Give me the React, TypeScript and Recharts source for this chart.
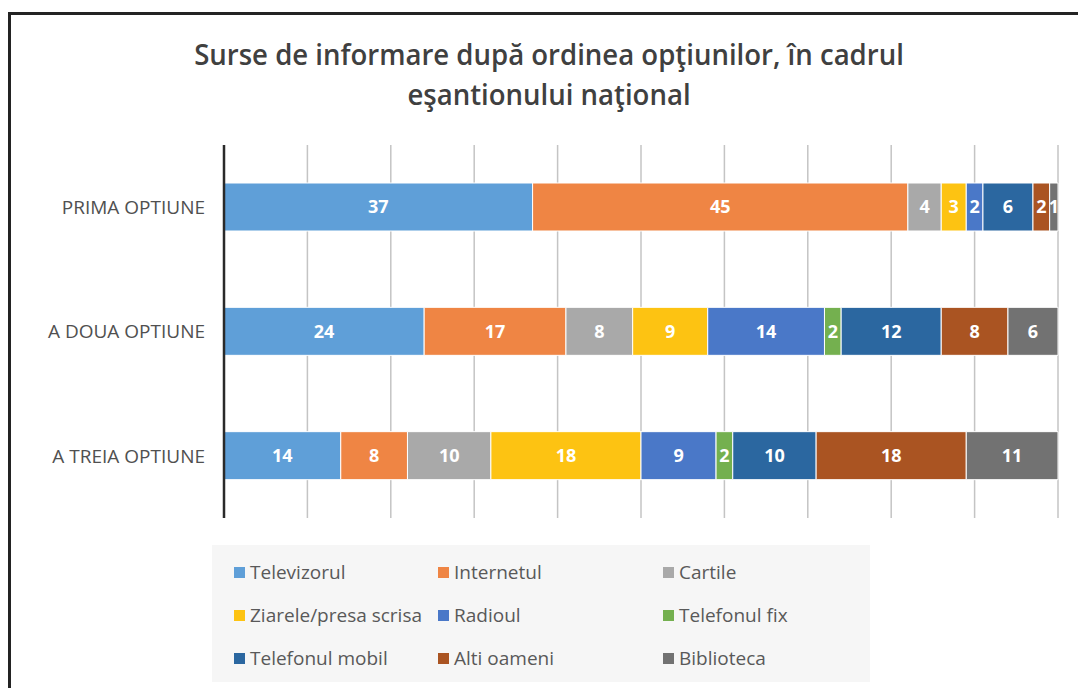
import { BarChart, Bar, XAxis, YAxis, CartesianGrid, LabelList } from "recharts"

const optiuni = ["PRIMA OPTIUNE", "A DOUA OPTIUNE", "A TREIA OPTIUNE"]

const televizorul = [37, 24, 14]
const internetul = [45, 17, 8]
const cartile = [4, 8, 10]
const ziarele = [3, 9, 18]
const radioul = [2, 14, 9]
const telefonFix = [0, 2, 2]
const telefonMobil = [6, 12, 10]
const altiOameni = [2, 8, 18]
const biblioteca = [1, 6, 11]

const xTicks = [0, 10, 20, 30, 40, 50, 60, 70, 80, 90, 100]

const serii = [
  { key: "tv", name: "Televizorul", values: televizorul, color: "#5f9fd8" },
  { key: "net", name: "Internetul", values: internetul, color: "#ef8544" },
  { key: "carti", name: "Cartile", values: cartile, color: "#a9a9a9" },
  { key: "ziare", name: "Ziarele/presa scrisa", values: ziarele, color: "#fdc312" },
  { key: "radio", name: "Radioul", values: radioul, color: "#4a78c8" },
  { key: "fix", name: "Telefonul fix", values: telefonFix, color: "#74b04f" },
  { key: "mobil", name: "Telefonul mobil", values: telefonMobil, color: "#2b67a0" },
  { key: "oameni", name: "Alti oameni", values: altiOameni, color: "#aa5422" },
  { key: "bibl", name: "Biblioteca", values: biblioteca, color: "#727272" },
]

const data = optiuni.map((name, i) => {
  const row: Record<string, string | number> = { name }
  serii.forEach((s) => {
    row[s.key] = s.values[i]
  })
  return row
})

function LegendBox() {
  const colX = [22, 226, 451]
  return (
    <div style={{ position: "absolute", left: 201, top: 530, width: 658, height: 137, background: "#f6f6f6" }}>
      {serii.map((s, i) => {
        const col = i % 3
        const row = Math.floor(i / 3)
        return (
          <div
            key={s.key}
            style={{
              position: "absolute",
              left: colX[col],
              top: 27 + row * 43 - 14,
              height: 28,
              display: "flex",
              alignItems: "center",
              whiteSpace: "nowrap",
              fontFamily: "'Open Sans', sans-serif",
              fontSize: 19,
              color: "#595959",
            }}
          >
            <span style={{ display: "inline-block", width: 11, height: 11, background: s.color, marginRight: 5 }} />
            {s.name}
          </div>
        )
      })}
    </div>
  )
}

export default function App() {
  return (
    <div
      style={{
        position: "absolute",
        left: 8,
        top: 12,
        width: 1070,
        height: 676,
        borderTop: "3px solid #232323",
        borderLeft: "3px solid #232323",
        boxSizing: "border-box",
        background: "#fff",
      }}
    >
      <div
        style={{
          position: "absolute",
          left: 38,
          top: 19,
          width: 1000,
          textAlign: "center",
          fontFamily: "'Open Sans', sans-serif",
          fontWeight: 600,
          fontSize: 29,
          lineHeight: "40px",
          color: "#404040",
          transform: "scaleX(0.95)",
          transformOrigin: "center",
          whiteSpace: "nowrap",
        }}
      >
        <div>Surse de informare după ordinea opţiunilor, în cadrul</div>
        <div>eşantionului naţional</div>
      </div>
      <div style={{ position: "absolute", left: 0, top: 0 }}>
        <BarChart
          width={1067}
          height={673}
          data={data}
          layout="vertical"
          margin={{ top: 130, right: 20, bottom: 170, left: 0 }}
          barSize={48}
        >
          <CartesianGrid horizontal={false} stroke="#c4c4c4" strokeWidth={1.5} />
          <XAxis type="number" domain={[0, 100]} ticks={xTicks} hide />
          <YAxis
            type="category"
            dataKey="name"
            width={213}
            tickLine={false}
            tickSize={0}
            tickMargin={19}
            axisLine={{ stroke: "#2a2a2a", strokeWidth: 2.5 }}
            tick={{ fill: "#505050", fontSize: 19, fontFamily: "'Open Sans', sans-serif" }}
          />
          {serii.map((s) => (
            <Bar
              key={s.key}
              dataKey={s.key}
              name={s.name}
              stackId="a"
              fill={s.color}
              stroke="#ffffff"
              strokeWidth={1}
              isAnimationActive={false}
            >
              <LabelList
                dataKey={s.key}
                position="center"
                fill="#ffffff"
                fontSize={18}
                fontWeight={700}
                fontFamily="'Open Sans', sans-serif"
              />
            </Bar>
          ))}
        </BarChart>
      </div>
      <LegendBox />
    </div>
  )
}
